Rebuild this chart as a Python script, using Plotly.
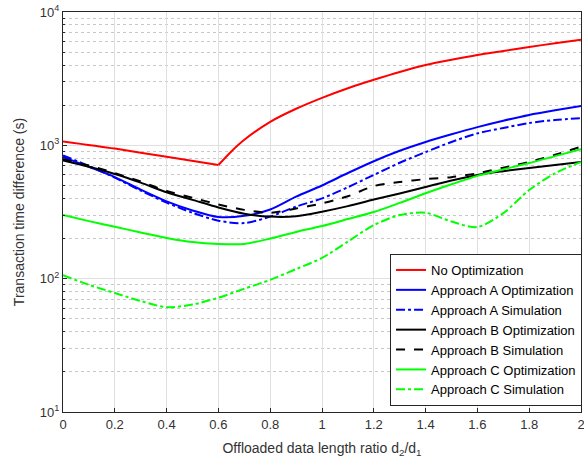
import plotly.graph_objects as go

x_vals = [0.0, 0.1, 0.2, 0.3, 0.4, 0.5, 0.6, 0.7, 0.8, 0.9, 1.0,
          1.1, 1.2, 1.3, 1.4, 1.5, 1.6, 1.7, 1.8, 1.9, 2.0]

x_red_a = [0.0, 0.2, 0.4, 0.6]
no_opt_a = [1070, 945, 820, 712]
x_red_b = [0.6, 0.65, 0.7, 0.8, 0.9, 1.0, 1.1, 1.2, 1.3, 1.4, 1.5, 1.6, 1.7, 1.8, 1.9, 2.0]
no_opt_b = [712, 900, 1100, 1500, 1880, 2270, 2680, 3100, 3550, 4000, 4380, 4760, 5100, 5460, 5830, 6200]

a_opt = [820, 690, 578, 465, 380, 325, 290, 296, 330, 412, 500,
         620, 760, 910, 1060, 1210, 1370, 1530, 1690, 1830, 1970]
a_sim = [840, 700, 572, 458, 372, 312, 272, 261, 292, 347, 400,
         485, 600, 740, 890, 1060, 1230, 1350, 1470, 1550, 1600]
b_opt = [770, 690, 610, 525, 445, 390, 342, 307, 292, 294, 318,
         350, 392, 435, 487, 545, 600, 640, 677, 712, 750]
b_sim = [790, 705, 620, 535, 455, 405, 360, 328, 312, 336, 367,
         415, 495, 531, 558, 577, 617, 680, 750, 850, 975]
c_opt = [300, 270, 245, 222, 202, 188, 182, 182, 200, 224, 248,
         280, 316, 370, 437, 510, 590, 660, 736, 830, 935]
c_sim = [106, 90, 78, 68, 61, 64, 72, 84, 98, 118, 143,
         190, 252, 300, 312, 268, 244, 310, 462, 617, 750]

series = [
    ("Approach A Optimization", a_opt, "#0000ff", "solid"),
    ("Approach A Simulation", a_sim, "#0000ff", "dashdot"),
    ("Approach B Optimization", b_opt, "#000000", "solid"),
    ("Approach B Simulation", b_sim, "#000000", "dash"),
    ("Approach C Optimization", c_opt, "#00ff00", "solid"),
    ("Approach C Simulation", c_sim, "#00ff00", "dashdot"),
]

fig = go.Figure()
fig.add_trace(go.Scatter(
    x=x_red_a, y=no_opt_a, name="No Optimization", mode="lines", legendgroup="red",
    line=dict(color="#ff0000", width=2, shape="spline", smoothing=0.8),
))
fig.add_trace(go.Scatter(
    x=x_red_b, y=no_opt_b, name="No Optimization", mode="lines", legendgroup="red",
    showlegend=False,
    line=dict(color="#ff0000", width=2, shape="spline", smoothing=0.8),
))
for name, ys, color, dash in series:
    fig.add_trace(go.Scatter(
        x=x_vals, y=ys, name=name, mode="lines",
        line=dict(color=color, width=2, dash=dash, shape="spline", smoothing=0.8),
    ))

font_family = "Liberation Sans, Arial, sans-serif"
minor_vals = [m * 10 ** e for e in range(1, 4) for m in range(2, 10)]

fig.update_layout(
    width=584, height=464,
    margin=dict(l=63, r=3, t=12, b=52, autoexpand=False),
    paper_bgcolor="white", plot_bgcolor="white",
    font=dict(family=font_family, size=13, color="#333333"),
    showlegend=True,
    legend=dict(
        x=1.002, y=0.015, xanchor="right", yanchor="bottom",
        bgcolor="white", bordercolor="#262626", borderwidth=1,
        font=dict(family=font_family, size=13, color="#000000"),
        tracegroupgap=0, traceorder="normal",
    ),
    xaxis=dict(
        range=[0, 2], tickvals=[0, 0.2, 0.4, 0.6, 0.8, 1, 1.2, 1.4, 1.6, 1.8, 2],
        ticktext=["0", "0.2", "0.4", "0.6", "0.8", "1", "1.2", "1.4", "1.6", "1.8", "2"],
        showgrid=True, gridcolor="#e0e0e0", gridwidth=1,
        showline=True, linecolor="#262626", linewidth=1, mirror=True,
        ticks="inside", ticklen=4, tickcolor="#262626",
        zeroline=False, automargin=False, ticklabeloverflow="allow",
        title=dict(text="Offloaded data length ratio d<sub>2</sub>/d<sub>1</sub>",
                   font=dict(size=14), standoff=12),
    ),
    yaxis=dict(
        type="log", range=[1, 4],
        tickvals=[10, 100, 1000, 10000],
        ticktext=["10<sup>1</sup>", "10<sup>2</sup>", "10<sup>3</sup>", "10<sup>4</sup>"],
        showgrid=True, gridcolor="#e0e0e0", gridwidth=1,
        showline=True, linecolor="#262626", linewidth=1, mirror=True,
        ticks="inside", ticklen=4, tickcolor="#262626",
        minor=dict(tickvals=minor_vals, showgrid=True, gridcolor="#c8c8c8",
                   griddash="dot", ticks="inside", ticklen=2, tickcolor="#262626"),
        zeroline=False, automargin=False, ticklabeloverflow="allow",
        title=dict(text="Transaction time difference (s)", font=dict(size=14), standoff=11),
    ),
)

fig.write_html("out.html", config={"displayModeBar": False},
               post_script="document.body.style.margin='0';")
